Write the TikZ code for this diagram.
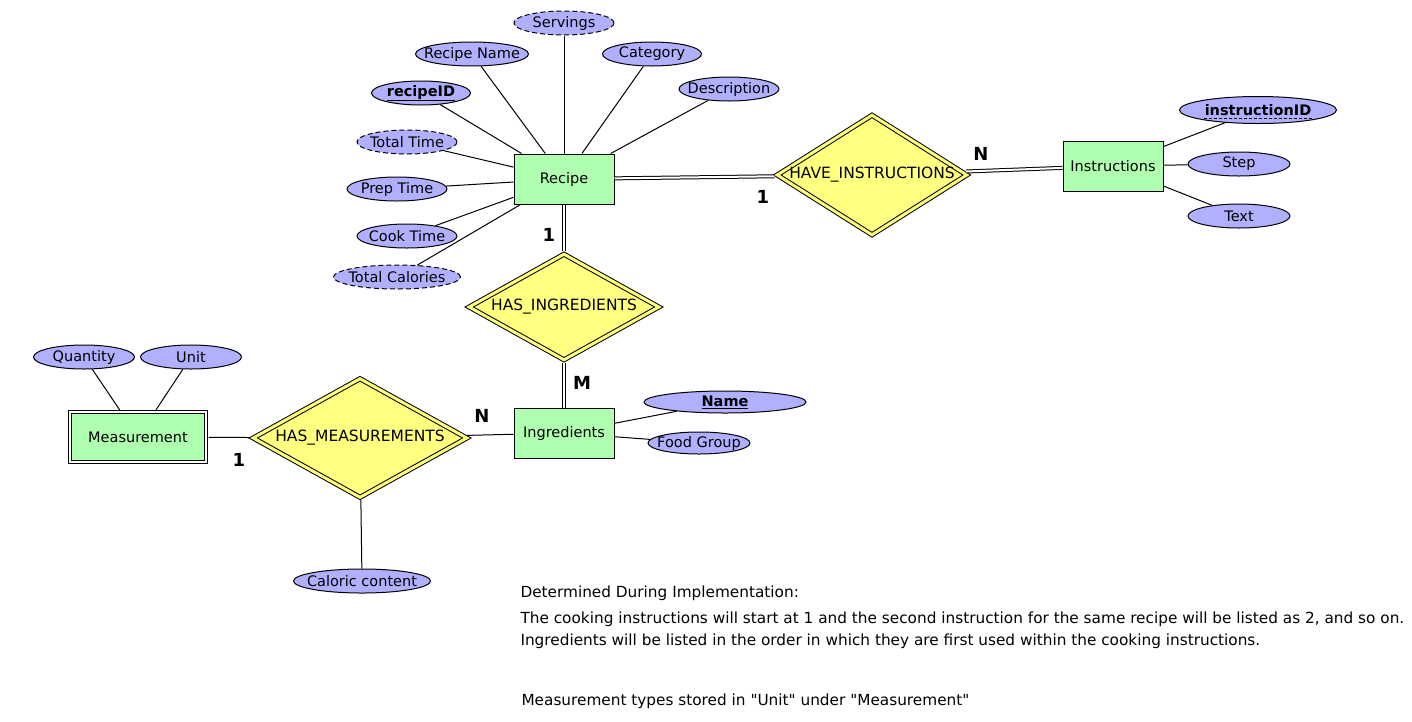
\documentclass[tikz,border=0pt]{standalone}
\usepackage{fontspec}
\setmainfont{DejaVu Sans}[Ligatures=TeXOff]
\usetikzlibrary{shapes.geometric}

\definecolor{entfill}{RGB}{176,255,176}
\definecolor{attrfill}{RGB}{176,176,255}
\definecolor{relfill}{RGB}{255,255,128}

\tikzset{
  zerobox/.style={execute at begin node={\hbox to 0pt\bgroup\hss}, execute at end node={\hss\egroup}},
  entity/.style={rectangle, draw, fill=entfill, minimum width=100pt, minimum height=50pt, inner sep=0pt},
  weakentity/.style={entity, double=white, double distance=2.4pt, minimum width=136pt, minimum height=50pt},
  relation/.style={diamond, draw, fill=relfill, double=relfill, double distance=3pt, inner sep=0pt, zerobox, font=\fontsize{15.5}{17}\selectfont},
  attr/.style={ellipse, draw, fill=attrfill, inner sep=0pt, minimum height=24pt, zerobox},
  dattr/.style={attr, dash pattern=on 5pt off 3pt},
  card/.style={font=\bfseries\fontsize{18}{20}\selectfont},
  note/.style={anchor=west, inner sep=0pt, font=\fontsize{15.3}{17}\selectfont},
  dlink/.style={double, double distance=2pt}
}

\begin{document}
\begin{tikzpicture}[x=1pt, y=-1pt, line width=1pt, font=\fontsize{14.5}{17}\selectfont]
\useasboundingbox (0,0) rectangle (1412,721);

	% entities
	\node [entity] (recipe) at (564,179) {Recipe};
	\node [entity] (instr) at (1113,166) {Instructions};
	\node [entity] (ingr) at (564,433) {Ingredients};
	\node [weakentity] (meas) at (138,437) {Measurement};

	% relationships
	\node [relation, minimum width=190pt, minimum height=120pt] (haveinstr) at (872,175) {HAVE\_INSTRUCTIONS};
	\node [relation, minimum width=190pt, minimum height=106pt] (hasingr) at (564,307) {HAS\_INGREDIENTS};
	\node [relation, minimum width=214pt, minimum height=119pt] (hasmeas) at (360,438) {HAS\_MEASUREMENTS};

	% recipe attributes
	\node [dattr, minimum width=100pt] (servings) at (564,23) {Servings};
	\node [attr, minimum width=113pt] (rname) at (472,54) {Recipe Name};
	\node [attr, minimum width=99pt] (category) at (652,54) {Category};
	\node [attr, minimum width=99pt] (recipeid) at (421,93) {\bfseries\underline{recipeID}};
	\node [attr, minimum width=100pt] (descr) at (729,89) {Description};
	\node [dattr, minimum width=100pt] (ttime) at (407,142) {Total Time};
	\node [attr, minimum width=100pt] (ptime) at (397,189) {Prep Time};
	\node [attr, minimum width=100pt] (ctime) at (407,236) {Cook Time};
	\node [dattr, minimum width=127pt] (tcal) at (397,277) {Total Calories};

	\foreach \a in {servings, rname, category, recipeid, descr, ttime, ptime, ctime, tcal}
		\draw (recipe) -- (\a);

	% instruction attributes
	\node [attr, minimum width=157pt, minimum height=27pt] (instrid) at (1258,110) {\bfseries instructionID};
	\draw [dash pattern=on 3pt off 2pt] ([xshift=-54pt, yshift=-8pt]instrid.center) -- ([xshift=54pt, yshift=-8pt]instrid.center);
	\node [attr, minimum width=102pt] (step) at (1239,164) {Step};
	\node [attr, minimum width=102pt] (text) at (1239,216) {Text};

	\draw (instr) -- (instrid);
	\draw (instr) -- (step);
	\draw (instr) -- (text);

	% ingredient attributes
	\node [attr, minimum width=162pt, minimum height=22pt] (iname) at (725,402) {\bfseries\underline{Name}};
	\node [attr, minimum width=102pt, minimum height=22pt] (fgroup) at (699,443) {Food Group};

	\draw (ingr) -- (iname);
	\draw (ingr) -- (fgroup);

	% measurement attributes
	\node [attr, minimum width=101pt] (qty) at (84,357) {Quantity};
	\node [attr, minimum width=101pt] (unit) at (191,357) {Unit};
	\node [attr, minimum width=137pt] (calcont) at (362,581) {Caloric content};

	\draw [shorten <=2pt] (meas) -- (qty);
	\draw [shorten <=2pt] (meas) -- (unit);
	\draw [shorten <=2.5pt] (hasmeas) -- (calcont);

	% relationship links
	\draw [dlink, shorten >=4pt] (recipe) -- (haveinstr);
	\draw [dlink, shorten <=4pt] (haveinstr) -- (instr);
	\draw [dlink, shorten >=2.5pt] (recipe) -- (hasingr);
	\draw [dlink, shorten <=2.5pt] (hasingr) -- (ingr);
	\draw [shorten <=2pt, shorten >=4pt] (meas) -- (hasmeas);
	\draw [shorten <=4pt] (hasmeas) -- (ingr);

	% cardinalities
	\node [card] (c1) at (763,197) {1};
	\node [card] (c2) at (981,154) {N};
	\node [card] (c3) at (549,235) {1};
	\node [card] (c4) at (582,383) {M};
	\node [card] (c5) at (482,416) {N};
	\node [card] (c6) at (239,460) {1};

	% notes
	\node [note] (note1) at (520,593) {Determined During Implementation:};
	\node [note] (note2) at (520,619) {The cooking instructions will start at 1 and the second instruction for the same recipe will be listed as 2, and so on.};
	\node [note] (note3) at (520,641) {Ingredients will be listed in the order in which they are first used within the cooking instructions.};
	\node [note] (note4) at (521,701) {Measurement types stored in "Unit" under "Measurement"};

\end{tikzpicture}
\end{document}
